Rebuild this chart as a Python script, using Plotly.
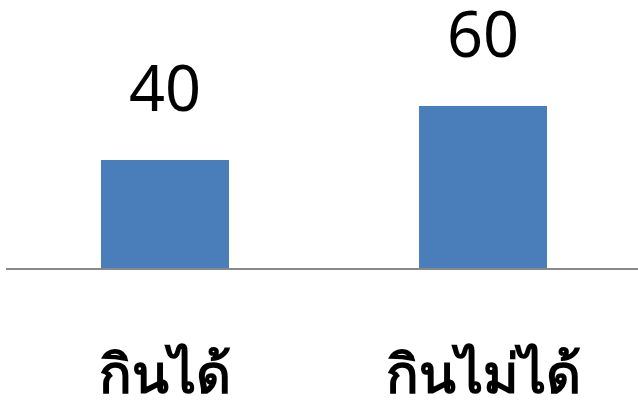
import plotly.graph_objects as go

categories = ["กินได้", "กินไม่ได้"]
values = [40, 60]

fig = go.Figure()
fig.add_trace(go.Bar(x=categories, y=values, marker_color="#4a7ebb",
                     marker_line_width=0, width=0.4025, showlegend=False))

for c, v in zip(categories, values):
    fig.add_annotation(x=c, y=v, text=str(v), showarrow=False,
                       yanchor="bottom", yshift=29,
                       font=dict(size=63, color="black", family="Noto Sans"))

fig.update_layout(
    width=638, height=406,
    margin=dict(l=6, r=0, t=0, b=138),
    paper_bgcolor="white", plot_bgcolor="white",
    xaxis=dict(showline=True, linecolor="#898989", linewidth=2,
               range=[-0.5, 1.4874], automargin=False,
               tickfont=dict(size=54, color="black", family="Noto Sans", weight="bold"),
               ticklabelstandoff=58,
               ticks="", showgrid=False),
    yaxis=dict(range=[0, 99.26], visible=False, showgrid=False, automargin=False),
)
fig.write_html("out.html")
